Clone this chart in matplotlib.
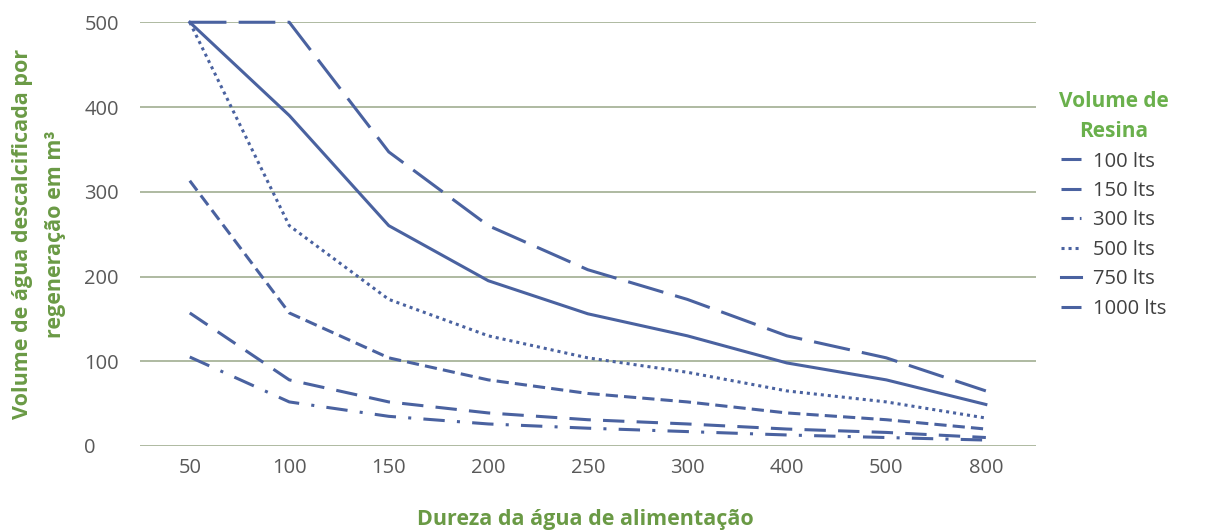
import matplotlib.pyplot as plt

# dados do gráfico
dureza = ['50', '100', '150', '200', '250', '300', '400', '500', '800']
v100 = [105, 52, 35, 26, 21, 17, 13, 10, 7]
v150 = [157, 78, 52, 39, 31, 26, 20, 16, 10]
v300 = [313, 157, 104, 78, 62, 52, 39, 31, 20]
v500 = [500, 260, 173, 130, 104, 87, 65, 52, 33]
v750 = [500, 390, 260, 195, 156, 130, 98, 78, 49]
v1000 = [500, 500, 347, 260, 208, 173, 130, 104, 65]
nomes = ['100 lts', '150 lts', '300 lts', '500 lts', '750 lts', '1000 lts']

plt.rcParams['font.family'] = ['Open Sans', 'DejaVu Sans']

cor = '#4a62a0'
verde = '#6a9a45'
estilos = [(0, (7, 4, 1, 4)), (0, (7, 4)), (0, (4, 2)), (0, (1, 1.3)), '-', (0, (12, 4))]
series = [v100, v150, v300, v500, v750, v1000]

fig = plt.figure(figsize=(12.07, 5.30), dpi=100)
ax = fig.add_axes([0.116, 0.1585, 0.742, 0.7995])

x = list(range(len(dureza)))
for s, est, nome in zip(series, estilos, nomes):
    ax.plot(x, s, color=cor, linewidth=2.2, linestyle=est, label=nome, clip_on=False)

ax.set_xlim(-0.5, len(dureza) - 0.5)
ax.set_ylim(0, 500)
ax.set_yticks([0, 100, 200, 300, 400, 500])
ax.set_xticks(x)
ax.set_xticklabels(dureza)
ax.grid(axis='y', color='#a8b49a', linewidth=1.3)
ax.set_axisbelow(True)
for sp in ax.spines.values():
    sp.set_visible(False)
ax.tick_params(length=0, labelsize=14.5, labelcolor='#595959', pad=9)
ax.tick_params(axis='y', pad=40)
for t in ax.get_yticklabels():
    t.set_horizontalalignment('left')

ax.set_xlabel('Dureza da água de alimentação', fontsize=15.5, fontweight='bold',
              color=verde)
ax.xaxis.set_label_coords(0.497, -0.148)
ax.set_ylabel('Volume de água descalcificada por\nregeneração em m³', fontsize=15.5,
              fontweight='bold', color=verde, linespacing=1.7)
ax.yaxis.set_label_coords(-0.083, 0.5)

leg = fig.legend(*ax.get_legend_handles_labels(), loc='upper left',
                 bbox_to_anchor=(0.862, 0.862), frameon=False,
                 title='Volume de\nResina', fontsize=14.5, handlelength=1.0,
                 labelspacing=0.47, handletextpad=0.6, alignment='center')
leg.get_title().set_fontweight('bold')
leg.get_title().set_fontsize(15)
leg.get_title().set_color('#6ab04c')
leg.get_title().set_linespacing(1.55)
leg.get_title().set_multialignment('center')
for t in leg.get_texts():
    t.set_color('#404040')

fig.savefig('out.png', dpi=100)
